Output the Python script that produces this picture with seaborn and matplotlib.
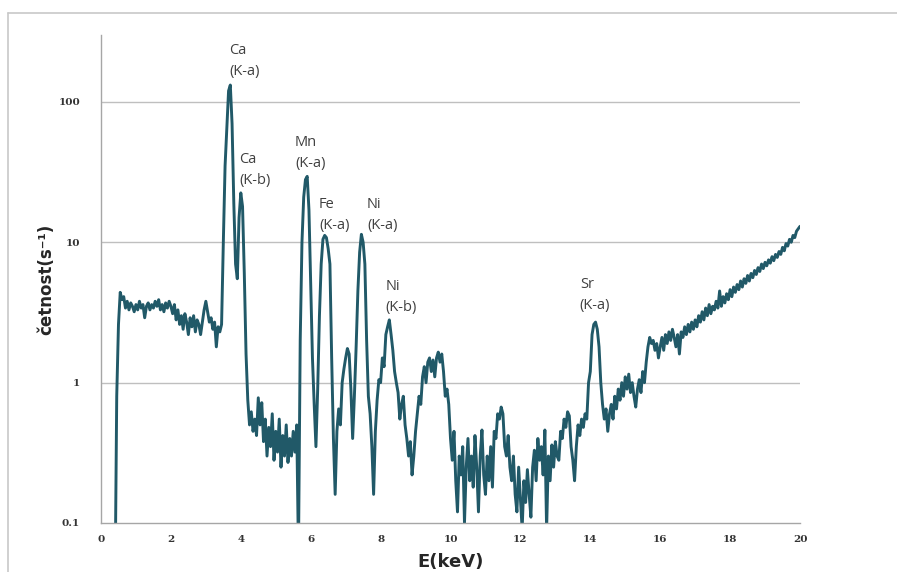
import numpy as np
import pandas as pd
import matplotlib
matplotlib.use("Agg")
import matplotlib.pyplot as plt
import seaborn as sns
from matplotlib.lines import Line2D
from matplotlib.ticker import FixedLocator, FixedFormatter, NullLocator

# spectrum channels: 0.05 keV steps, 0 .. 20 keV
energy_kev = np.round(np.arange(0, 401) * 0.05, 2)

# count rate, one row per keV
counts = [
    # 0.00 - 0.95
    np.nan, np.nan, np.nan, np.nan, np.nan, np.nan, np.nan, np.nan, 0.03, 0.8,
    2.6, 4.4, 3.9, 4.1, 3.4, 3.8, 3.3, 3.7, 3.5, 3.2,
    # 1.00 - 1.95
    3.6, 3.3, 3.8, 3.4, 3.6, 2.9, 3.5, 3.7, 3.3, 3.6,
    3.4, 3.8, 3.5, 3.9, 3.3, 3.6, 3.2, 3.7, 3.4, 3.8,
    # 2.00 - 2.95
    3.5, 3.1, 3.6, 2.8, 3.3, 2.6, 3.0, 2.4, 3.1, 2.7,
    2.2, 2.9, 2.5, 3.0, 2.3, 2.8, 2.6, 2.2, 2.7, 3.3,
    # 3.00 - 3.95
    3.8, 3.2, 2.7, 2.9, 2.4, 2.7, 1.8, 2.5, 2.3, 2.6,
    10, 35, 65, 120, 132, 70, 19, 7, 5.5, 15,
    # 4.00 - 4.95
    22.5, 18, 6, 1.6, 0.75, 0.5, 0.62, 0.45, 0.55, 0.42,
    0.78, 0.5, 0.72, 0.38, 0.55, 0.3, 0.48, 0.35, 0.6, 0.28,
    # 5.00 - 5.95
    0.45, 0.32, 0.55, 0.25, 0.42, 0.3, 0.5, 0.27, 0.4, 0.3,
    0.45, 0.32, 0.5, 0.06, 2.0, 10, 21, 28, 29.5, 17,
    # 6.00 - 6.95
    5, 1.5, 0.7, 0.35, 0.9, 3, 7, 10.5, 11.2, 10.8,
    9, 7, 1.5, 0.4, 0.16, 0.45, 0.65, 0.5, 1.0, 1.25,
    # 7.00 - 7.95
    1.5, 1.75, 1.6, 0.9, 0.4, 0.8, 1.8, 4.5, 8.5, 11.4,
    10, 7, 2.0, 0.8, 0.6, 0.35, 0.16, 0.45, 0.75, 1.05,
    # 8.00 - 8.95
    1.0, 1.5, 1.3, 2.2, 2.5, 2.8, 2.2, 1.7, 1.2, 1.0,
    0.85, 0.55, 0.7, 0.8, 0.5, 0.4, 0.3, 0.38, 0.22, 0.3,
    # 9.00 - 9.95
    0.45, 0.6, 0.8, 0.7, 1.1, 1.3, 1.0, 1.4, 1.5, 1.2,
    1.45, 1.1, 1.5, 1.65, 1.4, 1.6, 1.2, 0.8, 0.9, 0.7,
    # 10.00 - 10.95
    0.4, 0.28, 0.45, 0.2, 0.12, 0.3, 0.22, 0.35, 0.1, 0.25,
    0.4, 0.2, 0.3, 0.18, 0.42, 0.25, 0.12, 0.3, 0.46, 0.22,
    # 11.00 - 11.95
    0.16, 0.3, 0.2, 0.35, 0.18, 0.45, 0.4, 0.6, 0.55, 0.67,
    0.6, 0.35, 0.3, 0.42, 0.25, 0.2, 0.3, 0.16, 0.12, 0.25,
    # 12.00 - 12.95
    0.15, 0.09, 0.2, 0.14, 0.24, 0.16, 0.11, 0.25, 0.33, 0.2,
    0.4, 0.28, 0.35, 0.22, 0.46, 0.09, 0.3, 0.2, 0.36, 0.25,
    # 13.00 - 13.95
    0.38, 0.3, 0.28, 0.45, 0.4, 0.55, 0.48, 0.62, 0.58, 0.35,
    0.28, 0.2, 0.35, 0.5, 0.42, 0.55, 0.48, 0.6, 0.55, 1.0,
    # 14.00 - 14.95
    1.2, 2.2, 2.6, 2.7, 2.4, 1.8, 1.0, 0.7, 0.55, 0.65,
    0.45, 0.6, 0.7, 0.55, 0.8, 0.65, 0.9, 0.75, 1.0, 0.8,
    # 15.00 - 15.95
    1.1, 0.9, 1.15, 0.85, 1.0, 0.8, 0.67, 0.9, 1.05, 0.85,
    1.2, 1.0, 1.4, 1.8, 2.1, 1.9, 2.0, 1.7, 1.9, 1.5,
    # 16.00 - 16.95
    1.8, 2.1, 1.7, 2.2, 1.9, 2.3, 2.0, 2.4, 2.1, 1.8,
    2.2, 1.6, 2.3, 2.1, 2.5, 2.2, 2.6, 2.3, 2.7, 2.4,
    # 17.00 - 17.95
    2.8, 2.5, 3.0, 2.7, 3.2, 2.8, 3.4, 3.0, 3.6, 3.1,
    3.5, 3.3, 3.8, 3.4, 4.5, 3.5, 4.1, 3.7, 4.3, 3.9,
    # 18.00 - 18.95
    4.6, 4.1, 4.8, 4.4, 5.0, 4.6, 5.3, 4.8, 5.5, 5.1,
    5.8, 5.3, 6.0, 5.6, 6.3, 5.9, 6.6, 6.2, 7.0, 6.5,
    # 19.00 - 19.95
    7.2, 6.8, 7.5, 7.1, 7.9, 7.4, 8.2, 7.8, 8.6, 8.2,
    9.2, 8.7, 9.8, 9.4, 10.5, 10.0, 11.2, 10.8, 12.0, 12.5,
    # 20.00
    13.0,
]

peak_names = ["Ca\n(K-a)", "Ca\n(K-b)", "Mn\n(K-a)", "Fe\n(K-a)",
              "Ni\n(K-a)", "Ni\n(K-b)", "Sr\n(K-a)"]
peak_label_x = [3.66, 3.95, 5.55, 6.24, 7.61, 8.15, 13.7]
peak_label_y = [195, 33, 43, 15.6, 15.6, 4.1, 4.2]

x_ticks = [0, 2, 4, 6, 8, 10, 12, 14, 16, 18, 20]
y_ticks = [0.1, 1, 10, 100]
y_tick_labels = ["0.1", "1", "10", "100"]

df = pd.DataFrame({"E": energy_kev, "rate": counts})

sns.set_theme(style="white")
plt.rcParams["font.family"] = ["DejaVu Sans"]

line_color = "#215968"
grid_color = "#bfbfbf"
axis_color = "#a6a6a6"

fig = plt.figure(figsize=(8.97, 5.72), dpi=100)
ax = fig.add_axes([101 / 897, 1 - 523 / 572, 699 / 897, 488 / 572])

sns.lineplot(data=df, x="E", y="rate", ax=ax, color=line_color,
             linewidth=2.1, sort=False, estimator=None)

ax.set_yscale("log")
ax.set_xlim(0, 20)
ax.set_ylim(0.1, 300)

ax.yaxis.set_major_locator(FixedLocator(y_ticks))
ax.yaxis.set_major_formatter(FixedFormatter(y_tick_labels))
ax.yaxis.set_minor_locator(NullLocator())
ax.set_xticks(x_ticks)
ax.set_xticklabels([str(t) for t in x_ticks])

for v in [1, 10, 100]:
    ax.axhline(v, color=grid_color, linewidth=1.0, zorder=0)

for side in ["top", "right"]:
    ax.spines[side].set_visible(False)
for side in ["left", "bottom"]:
    ax.spines[side].set_color(axis_color)
    ax.spines[side].set_linewidth(1.0)

ax.tick_params(axis="both", which="major", direction="out", length=5,
               width=0.8, color=axis_color, labelcolor="#333333")
ax.tick_params(axis="y", pad=10)
ax.tick_params(axis="x", pad=4)
for lab in ax.get_xticklabels() + ax.get_yticklabels():
    lab.set_fontfamily("DejaVu Serif")
    lab.set_fontsize(7.5)
    lab.set_fontweight("bold")

ax.set_xlabel("E(keV)", fontsize=13, fontweight="bold", labelpad=6)
ax.set_ylabel("četnost(s⁻¹)", fontsize=12, fontweight="bold", labelpad=2)

for name, px, py in zip(peak_names, peak_label_x, peak_label_y):
    ax.text(px, py, name, fontsize=10.5, color="#404040", ha="left",
            va="center", linespacing=1.55, fontfamily="Open Sans")

# light frame of the original chart area
fig.add_artist(Line2D([8 / 897, 8 / 897], [-0.1, 1 - 13 / 572],
                      color="#c8c8c8", linewidth=1.2,
                      transform=fig.transFigure))
fig.add_artist(Line2D([8 / 897, 1.0], [1 - 13 / 572, 1 - 13 / 572],
                      color="#c8c8c8", linewidth=1.2,
                      transform=fig.transFigure))

fig.savefig("out.png", dpi=100)
